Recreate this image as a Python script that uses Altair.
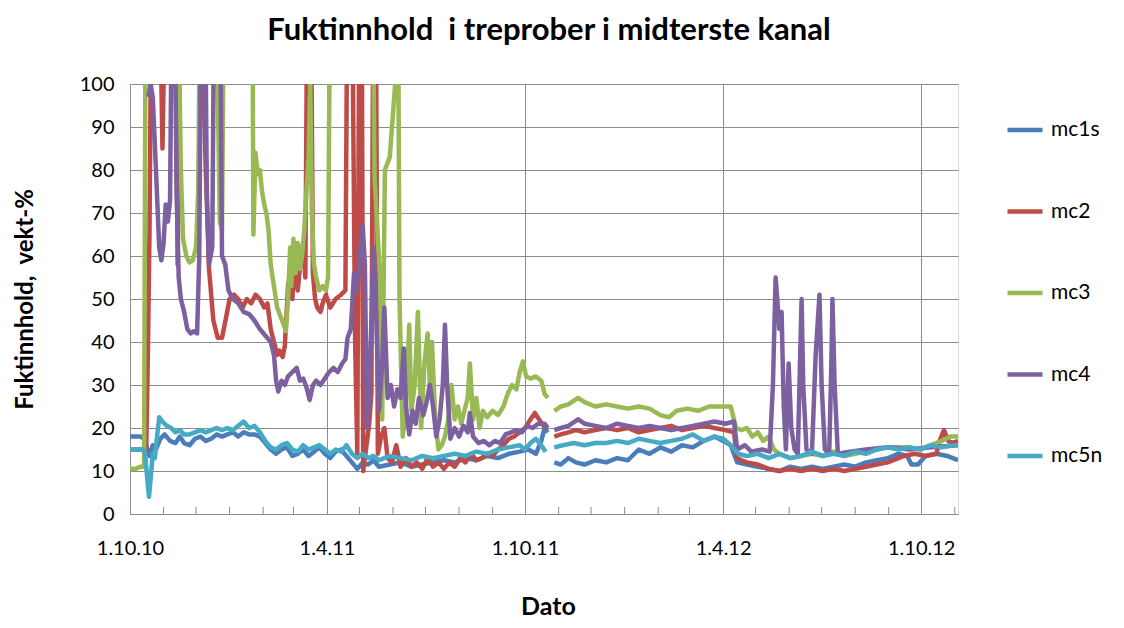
import altair as alt
import pandas as pd

SERIES = ["mc1s", "mc2", "mc3", "mc4", "mc5n"]
COLORS = ["#4A7EBB", "#BE4B48", "#98B954", "#7D60A0", "#46AAC5"]

# x = days after 1.10.2010, None = break in the logged record
MC1S_DAYS = [0, 10, 13, 16, 18, 21, 24, 28, 32, 37, 42, 46, 50, 55, 60, 65, 70, 75, 80, 85,
             90, 95, 100, 105, 110, 115, 120, 125, 130, 135, 140, 145, 150, 155, 160, 165, 170, 175, 180, 185,
             190, 195, 200, 205, 210, 215, 220, 225, 230, 240, 250, 260, 270, 280, 290, 300, 310, 320, 330, 340,
             350, 360, 368, 375, 380, 383, 386, None, 392, 398, 405, 412, 420, 430, 440, 450, 460, 470, 480, 490,
             500, 510, 520, 530, 540, 548, 555, 561, 570, 580, 590, 600, 610, 620, 630, 640, 650, 660, 670, 680,
             690, 700, 710, 718, 722, 728, 735, 745, 755, 765]
MC1S = [18, 18, 17.5, 15, 13.5, 16, 15, 17.5, 18.5, 17, 16.5, 18, 16.5, 16, 17.5, 18, 17, 17.5, 18.5, 18,
        18.5, 19, 18, 19, 18.5, 18.5, 18, 16.5, 15, 14, 15, 15.5, 13.5, 14, 15, 13.5, 14.5, 15.5, 14, 13,
        14.5, 15, 13.5, 12, 10.5, 12, 11.5, 12.5, 11, 11.5, 12, 11, 11.5, 12, 12.5, 12, 13, 12.5, 13.5, 13,
        14, 14.5, 15, 14, 17, 20, 19, None, 12, 11.5, 13, 12, 11.5, 12.5, 12, 13, 12.5, 15, 14, 15.5,
        14.5, 16, 15.5, 17, 18, 17, 16, 12, 11.5, 11, 10.5, 10, 11, 10.5, 11, 10.5, 11, 11.5, 11, 12,
        12.5, 13, 14, 13.5, 11.5, 11.5, 13.5, 14, 13.5, 12.5]

MC2_DAYS = [0, 13, 15, 16.5, 18, 20, 27, 30, 33, 42, 44, 47, 58, 64, 68, 70, 73, 77, 81, 85,
            89, 92, 96, 100, 104, 108, 112, 116, 120, 124, 127, 130, 133, 136, 138, 141, 143, 146, 148, 150,
            152, 155, 158, 160, 162, 164, 167, 169, 171, 173, 176, 178, 181, 185, 190, 195, 199, 201, 205, 208,
            210, 212, 214, 215.5, 218, 221, 223, 225, 227, 229, 232, 235, 238, 242, 246, 250, 255, 260, 265, 270,
            275, 280, 285, 290, 295, 300, 305, 310, 315, 320, 325, 330, 335, 340, 345, 350, 355, 360, 365, 370,
            374, 378, 382, 385, None, 392, 398, 405, 412, 420, 430, 440, 450, 460, 470, 480, 490, 500, 510, 520,
            530, 540, 550, 558, 561, 565, 570, 580, 590, 600, 610, 620, 630, 640, 650, 660, 670, 680, 690, 700,
            710, 715, 725, 735, 745, 748, 752, 756, 760, 765]
MC2 = [15, 15, 15, 37, 65, 130, 130, 85, 130, 130, 58, 130, 130, 130, 100, 80, 57, 45, 41, 41,
       46, 50, 51, 50, 48, 50, 49, 51, 50, 48, 49, 43, 40, 37, 38, 36.5, 39, 53, 56, 50,
       58, 52, 60, 63, 55, 130, 130, 56, 50, 48, 47, 49, 51, 48, 50, 51, 52, 130, 130, 40,
       14, 130, 130, 10, 15, 21, 28, 130, 130, 14, 18, 20, 13, 12, 16, 11, 13, 11, 12, 10.5,
       13, 11, 12, 10.5, 12, 11, 13, 12, 14, 12.5, 13, 14, 13.5, 15, 16, 17.5, 18, 19, 20, 22,
       23.5, 22, 20.5, 20, None, 18, 18.5, 19, 19.5, 19, 19.5, 20, 19.5, 20, 19, 19.5, 20, 20.5, 19.5, 20,
       20.5, 20, 19.5, 19, 13, 12.5, 12, 11.5, 10.5, 10, 10.5, 10, 10.5, 10, 10.5, 10, 10.5, 11, 11.5, 12,
       13, 13.5, 14, 13.5, 14, 17, 19.5, 17, 16.5, 17]

MC3_DAYS = [0, 5, 10, 13, 14.5, 44, 47, 49, 52, 55, 58, 61, 63, 65, 80, 81, 83, 85, 87, 113,
            114, 116, 118, 120, 122, 124, 126, 128, 130, 133, 136, 139, 142, 144, 146, 148, 149, 151, 153, 155,
            157, 159, 161, 163, 165, 166.5, 168, 170, 172, 175, 178, 181, 183, 185, 224, 226, 231, 233, 235.5, 240,
            245, 247.5, 249, 252, 255, 258, 260, 263, 266, 269, 272, 275, 277, 279, 282, 285, 288, 291, 294, 297,
            300, 303, 306, 309, 312, 314, 317, 320, 323, 326, 330, 335, 340, 345, 349, 353, 357, 360, 363, 366,
            370, 375, 380, 383, 386, None, 392, 398, 405, 414, 420, 430, 440, 450, 460, 470, 480, 490, 498, 505,
            515, 525, 535, 545, 555, 560, 565, 570, 575, 580, 585, 590, 595, 600, 610, 620, 630, 640, 650, 660,
            670, 680, 690, 700, 710, 720, 730, 740, 750, 758, 765]
MC3 = [10.5, 10.5, 11, 11, 130, 130, 80, 64, 60, 58.5, 59, 62, 75, 130, 130, 100, 68, 66, 130, 130,
       65, 84, 79, 80, 75, 72, 70, 66, 58, 53, 48, 46, 44, 42.5, 50, 62, 53, 64, 56, 63,
       57, 60, 66, 75, 83, 100, 70, 58, 55, 52, 53, 52, 55, 130, 130, 78, 55, 22, 80, 83,
       100, 130, 50, 18, 25, 44, 24, 30, 47, 20, 35, 42, 30, 40, 22, 15, 16, 18, 22, 30,
       22, 25, 21, 24, 27, 35, 22, 27, 20, 24, 22.5, 24, 23, 25, 28, 30, 29, 33, 35.5, 32,
       31.5, 32, 31, 28, 27, None, 24, 25, 25.5, 27, 26, 25, 25.5, 25, 24.5, 25, 24.5, 23, 22.5, 24,
       24.5, 24, 25, 25, 25, 20, 19.5, 20, 18, 19, 17, 18, 15, 14, 13, 13.5, 14, 13.5, 14.5, 13.5,
       14, 14.5, 15, 15.5, 15.5, 15.5, 15, 16, 17, 18, 18]

MC4_DAYS = [17, 19, 21, 24, 27, 29, 31, 33, 35, 37, 39, 41, 43, 45, 47, 50, 53, 56, 59, 62,
            64, 66, 69, 71, 73, 76, 78, 83, 85, 88, 91, 95, 100, 105, 110, 115, 120, 125, 130, 133,
            135, 137, 140, 143, 146, 150, 154, 157, 160, 163, 166, 169, 172, 176, 180, 184, 188, 192, 196, 199,
            201, 204, 207, 210, 213, 215, 217, 219, 221, 223, 225, 227, 230, 233, 235, 238, 241, 244, 247, 250,
            253, 255, 258, 261, 264, 267, 271, 274, 277, 280, 283, 286, 289, 291, 293, 296, 300, 304, 308, 312,
            314, 317, 322, 327, 332, 337, 342, 347, 352, 357, 362, 367, 372, 377, 383, 386, None, 392, 398, 405,
            414, 420, 430, 440, 450, 460, 470, 480, 490, 500, 510, 520, 530, 540, 550, 558, 561, 568, 574, 584,
            591, 594, 596.5, 598, 600, 602, 604, 606, 608.5, 611, 614, 617, 619, 620.5, 622, 625, 630, 633.5, 637, 639,
            642, 646, 648, 649, 651, 654, 665, 680, 700, 720, 740, 765]
MC4 = [97, 100, 97, 80, 62, 59, 63, 72, 68, 73, 130, 130, 75, 55, 50, 47, 43, 42, 42.5, 42,
       60, 130, 130, 75, 58, 62, 130, 130, 60, 58, 52, 50, 49, 47, 46.5, 45, 43, 41.5, 40, 37,
       31, 28.5, 31, 30, 32, 33, 34, 31, 31.5, 29.5, 26.5, 30, 31, 30, 31.5, 33, 34, 33, 35, 36,
       41, 43, 56, 52, 62, 67, 58, 20, 28, 45, 62, 50, 24, 35, 48, 27, 30, 25, 29, 27,
       38.5, 25, 18.5, 24, 21, 27, 23, 26, 30, 25, 18, 22, 30, 44, 30, 17.5, 20, 18, 20.5, 19,
       23.5, 18, 16.5, 17, 16, 17, 16.5, 18.5, 19, 19.5, 19, 20.5, 20, 21, 21, 20, None, 19.5, 20, 20.5,
       22, 21, 20.5, 20, 21, 20.5, 20, 20.5, 20, 19.5, 20, 20.5, 21, 21.5, 21, 21.5, 15, 16, 14.5, 15,
       14.5, 30, 55, 50, 43, 47, 25, 15, 35, 20, 15, 14, 35, 50, 30, 15, 14, 37, 51, 30,
       15, 14, 35, 50, 30, 14, 14.5, 15, 15.5, 15, 15.5, 16]

MC5N_DAYS = [0, 12, 14, 16, 17.5, 19, 21, 23, 25, 27, 30, 34, 38, 42, 46, 50, 55, 60, 65, 70,
             75, 80, 85, 90, 95, 100, 105, 110, 115, 120, 125, 130, 135, 140, 145, 150, 155, 160, 165, 170,
             175, 180, 185, 190, 195, 200, 205, 210, 215, 220, 225, 230, 240, 250, 260, 270, 280, 290, 300, 310,
             320, 330, 340, 350, 360, 365, 370, 375, 380, 384, None, 392, 400, 410, 420, 430, 440, 450, 460, 470,
             480, 490, 500, 510, 520, 530, 540, 548, 555, 562, 570, 580, 590, 600, 610, 620, 630, 640, 650, 660,
             670, 680, 690, 700, 710, 720, 730, 740, 750, 760, 765]
MC5N = [15, 15, 14, 8, 4, 8, 14, 13, 18, 22.5, 21.5, 20.5, 20, 19, 19.5, 18.5, 18.5, 19, 19.5, 19,
        19.5, 20, 19.5, 20, 19.5, 20.5, 21.5, 20, 20.5, 19, 17, 15.5, 15, 16, 16.5, 15, 14.5, 16, 15, 15.5,
        16, 15, 14, 15, 14.5, 16, 14, 13, 14, 13, 13.5, 12.5, 13.5, 13, 12.5, 13.5, 13, 13.5, 14, 13.5,
        14.5, 14, 15, 15.5, 16, 15, 16.5, 17.5, 16, 14.5, None, 15.5, 16, 16.5, 16, 16.5, 16.5, 17, 16.5, 17.5,
        17, 16.5, 17, 17.5, 18.5, 17, 18, 17.5, 16, 14, 13.5, 14, 13, 14, 13, 13.5, 14.5, 13.5, 14, 13.5,
        14.5, 14, 15, 15.5, 15, 15.5, 15, 16, 15.5, 16, 16]

TICK_DAYS = [0, 182, 365, 548, 731]
TICK_LABELS = ["1.10.10", "1.4.11", "1.10.11", "1.4.12", "1.10.12"]
MONTH_DAYS = [31, 61, 92, 123, 151, 212, 243, 273, 304, 335, 396, 426, 457,
              488, 517, 578, 609, 639, 670, 701, 762]
Y_TICKS = [0, 10, 20, 30, 40, 50, 60, 70, 80, 90, 100]
X_END = 765

PLOT_W, PLOT_H = 828, 430
FONT = "Lato"
GRID = "#8C8C8C"

rows = []
for name, days, vals in [("mc1s", MC1S_DAYS, MC1S), ("mc2", MC2_DAYS, MC2), ("mc3", MC3_DAYS, MC3),
                         ("mc4", MC4_DAYS, MC4), ("mc5n", MC5N_DAYS, MC5N)]:
    assert len(days) == len(vals), (name, len(days), len(vals))
    seg = 0
    for d, v in zip(days, vals):
        if d is None or v is None:
            seg += 1
            continue
        rows.append({"series": name, "seg": f"{name}-{seg}", "day": d, "value": v})
df = pd.DataFrame(rows)

label_expr = "''"
for d, lab in reversed(list(zip(TICK_DAYS, TICK_LABELS))):
    label_expr = f"datum.value == {d} ? '{lab}' : ({label_expr})"

x_axis = alt.Axis(values=TICK_DAYS, labelExpr=label_expr, grid=True, gridColor=GRID,
                  tickSize=0, ticks=False, domainColor=GRID, labelFont=FONT, labelFontSize=20,
                  labelColor="#000000", labelPadding=24, title="Dato", titleFont=FONT,
                  titleFontSize=25, titleFontWeight="bold", titleColor="#000000",
                  titleX=PLOT_W / 2 + 4, titleY=92, titleBaseline="middle", labelFlush=False)
y_axis = alt.Axis(values=Y_TICKS, grid=True, gridColor=GRID, tickSize=0, ticks=False,
                  domainColor=GRID, labelFont=FONT, labelFontSize=20, labelColor="#000000",
                  labelPadding=16, title="Fuktinnhold,\u00a0 vekt-%", titleFont=FONT, titleFontSize=24,
                  titleFontWeight="bold", titleColor="#000000", titleX=-105, titleY=PLOT_H / 2,
                  titleAngle=-90, titleBaseline="middle", titleAlign="center")

lines = alt.Chart(df).mark_line(strokeWidth=4.5, clip=True, strokeJoin="round").encode(
    x=alt.X("day:Q", scale=alt.Scale(domain=[0, X_END], nice=False, zero=False), axis=x_axis),
    y=alt.Y("value:Q", scale=alt.Scale(domain=[0, 100], nice=False), axis=y_axis),
    color=alt.Color("series:N", scale=alt.Scale(domain=SERIES, range=COLORS),
                    legend=alt.Legend(title=None, orient="none", legendX=875, legendY=26,
                                      symbolType="stroke", symbolSize=1225, symbolStrokeWidth=4.5,
                                      labelFont=FONT, labelFontSize=21, labelColor="#000000",
                                      labelOffset=6, rowPadding=51.5)),
    detail="seg:N",
)

minor = alt.Chart(pd.DataFrame({"day": MONTH_DAYS})).mark_rule(color=GRID, strokeWidth=1).encode(
    x=alt.X("day:Q"),
    y=alt.value(PLOT_H - 7),
    y2=alt.value(PLOT_H),
)

chart = alt.layer(minor, lines).properties(
    width=PLOT_W, height=PLOT_H,
    autosize=alt.AutoSizeParams(type="none"),
    padding={"left": 122, "top": 76, "right": 150, "bottom": 106},
    title=alt.TitleParams(text="Fuktinnhold\u00a0 i treprober i midterste kanal", font=FONT, fontSize=31,
                          fontWeight="bold", color="#000000", anchor="middle", frame="group",
                          offset=27, dx=5),
).configure_view(stroke=None).configure(background="white")

chart.save("out.html", embed_options={"renderer": "svg", "actions": False})
